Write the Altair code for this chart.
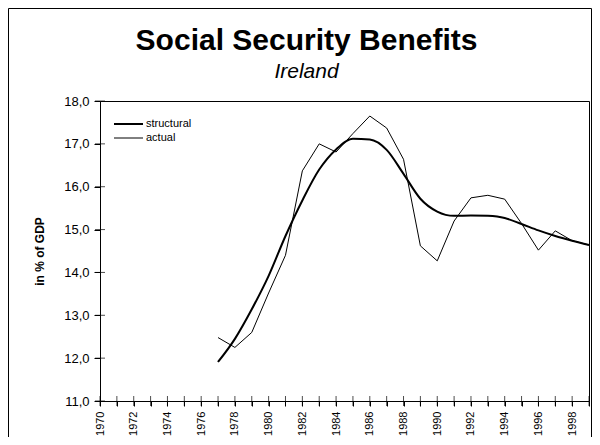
import altair as alt
import pandas as pd

years = list(range(1977, 2000))
structural = [11.91, 12.45, 13.14, 13.92, 14.85, 15.68, 16.40, 16.87, 17.12, 17.10,
              16.86, 16.30, 15.72, 15.42, 15.32, 15.33, 15.32, 15.27, 15.13, 14.98,
              14.85, 14.74, 14.64]
actual = [12.48, 12.25, 12.60, 13.52, 14.40, 16.37, 17.00, 16.81, 17.24, 17.65,
          17.37, 16.64, 14.62, 14.27, 15.20, 15.74, 15.80, 15.71, 15.14, 14.52,
          14.97, 14.74, 14.64]
axis_years = list(range(1970, 2000))
y_ticks = list(range(11, 19))
series_names = ["structural", "actual"]

df_s = pd.DataFrame({"year": years, "value": structural, "series": "structural"})
df_a = pd.DataFrame({"year": years, "value": actual, "series": "actual"})
df_xt = pd.DataFrame({"year": axis_years, "value": 11})
df_yt = pd.DataFrame({"year": 1970, "value": y_ticks})

FONT = "Liberation Sans"

x_scale = alt.Scale(domain=[1970, 1999], nice=False, zero=False)
y_scale = alt.Scale(domain=[11, 18], nice=False, zero=False)

x_axis = alt.Axis(values=axis_years, labelExpr="datum.value % 2 == 0 ? datum.value : ''",
                  labelAngle=270, labelFontSize=11, labelOverlap=False, labelPadding=5,
                  ticks=True, tickSize=5, tickColor="black", domainColor="black",
                  labelColor="black", grid=False, title=None, labelFlush=False,
                  labelFont=FONT)
y_axis = alt.Axis(values=y_ticks, labelExpr="replace(format(datum.value, '.1f'), '.', ',')",
                  labelFontSize=13, labelPadding=5, tickSize=6, tickColor="black",
                  domainColor="black", labelColor="black", grid=False, labelOverlap=False,
                  title="in % of GDP", titleFontSize=12, titleFontWeight="bold",
                  titleColor="black", titlePadding=17, labelFlush=False,
                  labelFont=FONT, titleFont=FONT)

leg = alt.Legend(title=None, orient="none", legendX=13, legendY=16,
                 symbolType="stroke", symbolSize=841, labelFontSize=11,
                 labelColor="black", rowPadding=0, clipHeight=14, labelOffset=2,
                 padding=0, labelFont=FONT)
color = alt.Color("series:N", scale=alt.Scale(domain=series_names, range=["black", "black"]),
                  legend=leg)
sw = alt.StrokeWidth("series:N", scale=alt.Scale(domain=series_names, range=[2, 1]),
                     legend=leg)

base_x = alt.X("year:Q", scale=x_scale, axis=x_axis)
base_y = alt.Y("value:Q", scale=y_scale, axis=y_axis)

line_s = alt.Chart(df_s).mark_line(interpolate="monotone").encode(
    x=base_x, y=base_y, color=color, strokeWidth=sw)
line_a = alt.Chart(df_a).mark_line(interpolate="linear").encode(
    x=base_x, y=base_y, color=color, strokeWidth=sw)

xticks = alt.Chart(df_xt).mark_tick(orient="vertical", size=10, thickness=1, color="black").encode(
    x=base_x, y=base_y)
yticks = alt.Chart(df_yt).mark_tick(orient="horizontal", size=10, thickness=1, color="black").encode(
    x=base_x, y=base_y)

frame = alt.Chart(df_xt.head(1)).mark_rect(fill=None, stroke="black", strokeWidth=1).encode(
    x=alt.value(-91.5), x2=alt.value(491.5), y=alt.value(-92.5), y2=alt.value(400))

chart = alt.layer(line_s, line_a, xticks, yticks, frame).properties(
    width=489, height=300,
    title=alt.TitleParams("Social Security Benefits", subtitle="Ireland",
                          fontSize=30, fontWeight="bold", font=FONT, color="black",
                          subtitleFontSize=21, subtitleFontStyle="italic", subtitleFont=FONT,
                          subtitleColor="black", subtitlePadding=5,
                          anchor="middle", frame="group", dx=-38, offset=-74),
    padding={"left": 92, "top": 93, "right": 3, "bottom": 36},
    autosize=alt.AutoSizeParams(type="none"),
).configure(font=FONT).configure_view(stroke="black", strokeWidth=1)

chart.save("out.html", embed_options={"renderer": "svg", "actions": False})
